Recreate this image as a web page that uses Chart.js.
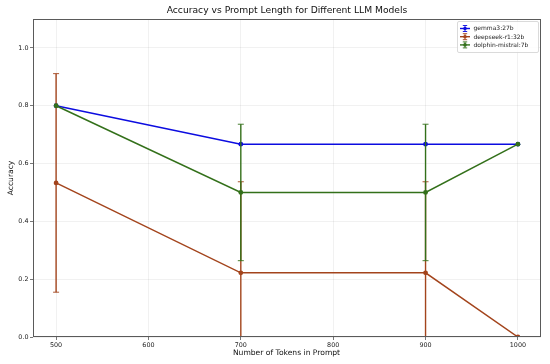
<!DOCTYPE html>
<html>
<head>
<meta charset="utf-8">
<script src="https://cdn.jsdelivr.net/npm/chart.js@4"></script>
<style>
html,body{margin:0;padding:0;background:#fff;}
#wrap{width:550px;height:364px;}
</style>
</head>
<body>
<div id="wrap"><canvas id="c" width="550" height="364"></canvas></div>
<script>
const tokens = [500, 700, 900, 1000];
const gemmaAcc = [0.8, 0.667, 0.667, 0.667];
const gemmaErr = [0, 0, 0, 0];
const deepseekAcc = [0.533, 0.222, 0.222, 0.0];
const deepseekErr = [0.378, 0.315, 0.315, 0];
const dolphinAcc = [0.8, 0.5, 0.5, 0.667];
const dolphinErr = [0, 0.236, 0.236, 0];
const seriesNames = ['gemma3:27b', 'deepseek-r1:32b', 'dolphin-mistral:7b'];
const xTicks = [500, 600, 700, 800, 900, 1000];
const yTicks = [0.0, 0.2, 0.4, 0.6, 0.8, 1.0];
const titleText = 'Accuracy vs Prompt Length for Different LLM Models';
const xLabel = 'Number of Tokens in Prompt';
const yLabel = 'Accuracy';

const colors = ['#0c0ce0', '#a3441c', '#33701a'];
const FONT = "'DejaVu Sans', sans-serif";

function pts(acc) { return tokens.map((t, i) => ({x: t, y: acc[i]})); }
const errs = [gemmaErr, deepseekErr, dolphinErr];
const accs = [gemmaAcc, deepseekAcc, dolphinAcc];

const datasets = accs.map((a, i) => ({
  label: seriesNames[i],
  data: pts(a),
  borderColor: colors[i],
  backgroundColor: colors[i],
  borderWidth: 1.5,
  pointRadius: 2.4,
  pointBorderWidth: 0,
  pointBackgroundColor: colors[i],
  tension: 0,
  fill: false,
  order: 3 - i,
  errIndex: i
}));

const errorBars = {
  id: 'errorBars',
  afterDatasetDraw(chart, args) {
    const ds = chart.data.datasets[args.index];
    const i = ds.errIndex;
    const xs = chart.scales.x, ys = chart.scales.y, ca = chart.chartArea;
    const ctx = chart.ctx;
    ctx.save();
    ctx.beginPath();
    ctx.rect(ca.left, ca.top, ca.right - ca.left, ca.bottom - ca.top);
    ctx.clip();
    ctx.strokeStyle = colors[i];
    tokens.forEach((t, k) => {
      const e = errs[i][k];
      if (!e) return;
      const px = xs.getPixelForValue(t);
      const p1 = ys.getPixelForValue(accs[i][k] + e);
      const p2 = ys.getPixelForValue(accs[i][k] - e);
      ctx.lineWidth = 1.4;
      ctx.beginPath(); ctx.moveTo(px, p1); ctx.lineTo(px, p2); ctx.stroke();
      ctx.lineWidth = 0.9;
      ctx.beginPath();
      ctx.moveTo(px - 3, p1); ctx.lineTo(px + 3, p1);
      ctx.moveTo(px - 3, p2); ctx.lineTo(px + 3, p2);
      ctx.stroke();
    });
    ctx.restore();
  }
};

const decor = {
  id: 'decor',
  afterDraw(chart) {
    const ctx = chart.ctx, ca = chart.chartArea;
    ctx.save();
    ctx.strokeStyle = '#5a5a5a';
    ctx.lineWidth = 1;
    ctx.strokeRect(ca.left + 0.5, ca.top + 0.5, ca.right - ca.left - 1, ca.bottom - ca.top - 1);
    ctx.fillStyle = '#111';
    ctx.textAlign = 'center';
    ctx.textBaseline = 'middle';
    ctx.font = '9.2px ' + FONT;
    ctx.fillText(titleText, (ca.left + ca.right) / 2, 11);
    ctx.font = '7.6px ' + FONT;
    ctx.fillText(xLabel, (ca.left + ca.right) / 2 - 0.5, 353.5);
    ctx.save();
    ctx.translate(11, (ca.top + ca.bottom) / 2);
    ctx.rotate(-Math.PI / 2);
    ctx.fillText(yLabel, 0, 0);
    ctx.restore();
    const lx = 457.5, ly = 21.5, lw = 81, lh = 31;
    ctx.fillStyle = 'rgba(255,255,255,0.85)';
    ctx.strokeStyle = '#d0d0d0';
    ctx.lineWidth = 0.8;
    ctx.beginPath();
    if (ctx.roundRect) ctx.roundRect(lx, ly, lw, lh, 1.5); else ctx.rect(lx, ly, lw, lh);
    ctx.fill(); ctx.stroke();
    ctx.font = '6px ' + FONT;
    ctx.textAlign = 'left';
    seriesNames.forEach((n, i) => {
      const y = 28.5 + i * 8.2;
      const x0 = 460, x1 = 470, xm = (x0 + x1) / 2;
      ctx.strokeStyle = colors[i];
      ctx.lineWidth = 1.4;
      ctx.beginPath(); ctx.moveTo(x0, y); ctx.lineTo(x1, y); ctx.stroke();
      ctx.lineWidth = 0.9;
      ctx.beginPath();
      ctx.moveTo(xm, y - 3); ctx.lineTo(xm, y + 3);
      ctx.moveTo(xm - 2.2, y - 3); ctx.lineTo(xm + 2.2, y - 3);
      ctx.moveTo(xm - 2.2, y + 3); ctx.lineTo(xm + 2.2, y + 3);
      ctx.stroke();
      ctx.fillStyle = colors[i];
      ctx.beginPath(); ctx.arc(xm, y, 1.8, 0, Math.PI * 2); ctx.fill();
      ctx.fillStyle = '#222';
      ctx.fillText(n, 473.5, y + 0.3);
    });
    ctx.restore();
  }
};

new Chart(document.getElementById('c'), {
  type: 'line',
  data: { datasets },
  options: {
    responsive: false,
    animation: false,
    events: [],
    layout: { padding: { top: 19, right: 9, bottom: 0, left: 0 } },
    plugins: { legend: { display: false }, title: { display: false }, tooltip: { enabled: false } },
    scales: {
      x: {
        type: 'linear', min: 475, max: 1025,
        afterFit(s) { s.height = 27; },
        afterBuildTicks(s) { s.ticks = xTicks.map(v => ({value: v})); },
        grid: { color: 'rgba(0,0,0,0.07)', tickColor: '#555', tickLength: 3, lineWidth: 0.8 },
        border: { display: false },
        ticks: { color: '#222', font: { size: 6.4, family: FONT }, padding: 2, maxRotation: 0, callback: v => String(v) }
      },
      y: {
        type: 'linear', min: 0, max: 1.1,
        afterFit(s) { s.width = 33; },
        afterBuildTicks(s) { s.ticks = yTicks.map(v => ({value: v})); },
        grid: { color: 'rgba(0,0,0,0.07)', tickColor: '#555', tickLength: 3, lineWidth: 0.8 },
        border: { display: false },
        ticks: { color: '#222', font: { size: 6.4, family: FONT }, padding: 1.5, callback: v => Number(v).toFixed(1) }
      }
    }
  },
  plugins: [errorBars, decor]
});
</script>
</body>
</html>
